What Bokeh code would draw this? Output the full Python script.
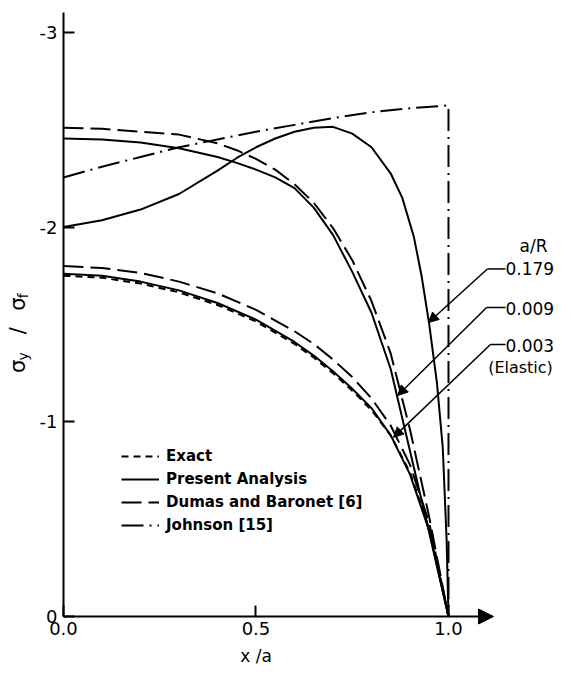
import math
from bokeh.plotting import figure
from bokeh.models import (Range1d, FixedTicker, Legend, LegendItem, Label, Arrow,
                          NormalHead)
from bokeh.embed import file_html
from bokeh.resources import INLINE

# ---------------- data ----------------
# a/R = 0.179, present analysis
x_p179 = [0, 0.1, 0.2, 0.3, 0.4, 0.45, 0.5, 0.55, 0.6, 0.65, 0.7, 0.75, 0.8, 0.85, 0.88, 0.91,
          0.93, 0.95, 0.97, 0.985, 0.995, 1.0]
y_p179 = [-2.0, -2.035, -2.09, -2.17, -2.29, -2.355, -2.41, -2.455, -2.49, -2.51, -2.515, -2.48,
          -2.41, -2.275, -2.15, -1.95, -1.75, -1.50, -1.2, -0.87, -0.4, 0.0]

# a/R = 0.009, present analysis
x_p009 = [0, 0.1, 0.2, 0.3, 0.4, 0.45, 0.5, 0.55, 0.6, 0.65, 0.7, 0.75, 0.8, 0.85, 0.9, 0.95, 1.0]
y_p009 = [-2.455, -2.45, -2.435, -2.405, -2.36, -2.33, -2.295, -2.255, -2.20, -2.10, -1.96,
          -1.77, -1.56, -1.27, -0.85, -0.43, 0.0]

# a/R = 0.009, Dumas and Baronet
x_d009 = [0, 0.1, 0.2, 0.3, 0.4, 0.45, 0.5, 0.55, 0.6, 0.65, 0.7, 0.75, 0.8, 0.85, 0.9, 0.95, 1.0]
y_d009 = [-2.51, -2.505, -2.49, -2.475, -2.43, -2.395, -2.35, -2.295, -2.22, -2.125, -1.995,
          -1.83, -1.62, -1.35, -0.96, -0.51, 0.0]

# a/R = 0.003 (elastic), present analysis
x_p003 = [0, 0.1, 0.2, 0.3, 0.4, 0.5, 0.6, 0.65, 0.7, 0.75, 0.8, 0.85, 0.9, 0.95, 1.0]
y_p003 = [-1.76, -1.75, -1.72, -1.675, -1.61, -1.525, -1.41, -1.34, -1.26, -1.17, -1.07, -0.93,
          -0.73, -0.44, 0.0]

# exact elastic solution
x_exact = [0, 0.1, 0.2, 0.3, 0.4, 0.5, 0.6, 0.65, 0.7, 0.75, 0.8, 0.85, 0.9, 0.95, 1.0]
y_exact = [-1.75, -1.74, -1.71, -1.665, -1.60, -1.515, -1.40, -1.33, -1.25, -1.16, -1.06, -0.93,
           -0.74, -0.45, 0.0]

# a/R = 0.003, Dumas and Baronet
x_d003 = [0, 0.1, 0.2, 0.3, 0.4, 0.5, 0.6, 0.65, 0.7, 0.75, 0.8, 0.85, 0.9, 0.95, 1.0]
y_d003 = [-1.80, -1.79, -1.765, -1.72, -1.66, -1.575, -1.465, -1.40, -1.32, -1.23, -1.12, -0.98,
          -0.78, -0.48, 0.0]

# Johnson [15]
x_john = [0, 0.1, 0.2, 0.3, 0.4, 0.5, 0.6, 0.7, 0.8, 0.9, 1.0, 1.0]
y_john = [-2.255, -2.31, -2.36, -2.41, -2.45, -2.49, -2.525, -2.56, -2.59, -2.61, -2.625, 0.0]

x_ticks = [0, 0.5, 1.0]
x_tick_labels = ["0.0", "0.5", "1.0"]
y_ticks = [-3, -2, -1, 0]
y_tick_labels = ["-3", "-2", "-1", "0"]

legend_labels = ["Exact", "Present Analysis", "Dumas and Baronet [6]", "Johnson [15]"]

ar_title = "a/R"
ar_values = ["0.179", "0.009", "0.003"]
ar_text_y = [-1.785, -1.58, -1.39]
ar_bend_x = [1.101, 1.099, 1.109]
ar_bend_y = [-1.785, -1.587, -1.397]
ar_tip_x = [0.948, 0.868, 0.857]
ar_tip_y = [-1.51, -1.135, -0.92]

FONT = "DejaVu Sans"
LW = 2

# frame covers the whole canvas; axes are pinned at x=0 / y=0
p = figure(width=563, height=667,
           x_range=Range1d(-0.1636, 1.2987), y_range=Range1d(0.262, -3.1638),
           output_backend="svg", toolbar_location=None,
           min_border_left=0, min_border_right=0, min_border_top=0, min_border_bottom=0)
p.outline_line_color = None
p.grid.visible = False
p.background_fill_color = "white"

# axes
xa = p.xaxis[0]
xa.fixed_location = 0
xa.bounds = (0, 1.0)
xa.ticker = FixedTicker(ticks=x_ticks)
xa.major_label_overrides = dict(zip(x_ticks, x_tick_labels))
xa.axis_line_color = None
xa.major_tick_in = 11
xa.major_tick_out = 0
xa.major_tick_line_width = 2
xa.minor_tick_line_color = None
xa.major_label_text_font = FONT
xa.major_label_text_font_size = "18px"
xa.major_label_text_color = "black"
xa.major_label_standoff = 6

ya = p.yaxis[0]
ya.fixed_location = 0
ya.bounds = (-3.1, 0)
ya.ticker = FixedTicker(ticks=y_ticks)
ya.major_label_overrides = dict(zip(y_ticks, y_tick_labels))
ya.axis_line_width = 2
ya.major_tick_in = 11
ya.major_tick_out = 0
ya.major_tick_line_width = 2
ya.minor_tick_line_color = None
ya.major_label_text_font = FONT
ya.major_label_text_font_size = "18px"
ya.major_label_text_color = "black"
ya.major_label_standoff = 6

# x-axis arrow
p.add_layout(Arrow(end=NormalHead(size=15, fill_color="black", line_color="black"),
                   x_start=0, y_start=0, x_end=1.117, y_end=0,
                   line_width=2, line_color="black"))

# curves
r_exact = p.line(x_exact, y_exact, line_color="black", line_width=LW, line_dash="7 5")
r_p003 = p.line(x_p003, y_p003, line_color="black", line_width=LW)
r_d003 = p.line(x_d003, y_d003, line_color="black", line_width=LW, line_dash="20 7")
p.line(x_p009, y_p009, line_color="black", line_width=LW)
p.line(x_d009, y_d009, line_color="black", line_width=LW, line_dash="20 7")
p.line(x_p179, y_p179, line_color="black", line_width=LW)
r_john = p.line(x_john, y_john, line_color="black", line_width=LW, line_dash="22 6 2 6")

legend = Legend(items=[LegendItem(label=legend_labels[0], renderers=[r_exact]),
                       LegendItem(label=legend_labels[1], renderers=[r_p003]),
                       LegendItem(label=legend_labels[2], renderers=[r_d003]),
                       LegendItem(label=legend_labels[3], renderers=[r_john])],
                location=(121, 132), orientation="vertical",
                label_text_font=FONT, label_text_font_size="15px",
                label_text_font_style="bold", label_text_color="black",
                glyph_width=38, glyph_height=20, label_height=20, spacing=3,
                padding=0, margin=0, label_standoff=7,
                border_line_color=None, background_fill_alpha=0)
p.add_layout(legend)

# a/R leaders
for i in range(3):
    p.line([1.148, ar_bend_x[i]], [ar_bend_y[i], ar_bend_y[i]], line_color="black", line_width=1.5)
    p.add_layout(Arrow(end=NormalHead(size=10, fill_color="black", line_color="black"),
                       x_start=ar_bend_x[i], y_start=ar_bend_y[i],
                       x_end=ar_tip_x[i], y_end=ar_tip_y[i],
                       line_width=1.5, line_color="black"))
    p.add_layout(Label(x=1.148, y=ar_text_y[i], text=ar_values[i], text_font=FONT,
                       text_font_size="17px", text_align="left", text_baseline="middle",
                       text_color="black"))
p.add_layout(Label(x=1.221, y=-1.905, text=ar_title, text_font=FONT, text_font_size="17px",
                   text_align="center", text_baseline="middle", text_color="black"))
p.add_layout(Label(x=1.103, y=-1.279, text="(Elastic)", text_font=FONT, text_font_size="16px",
                   text_align="left", text_baseline="middle", text_color="black"))

# axis titles
p.add_layout(Label(x=0.5, y=0.205, text="x /a", text_font=FONT, text_font_size="17px",
                   text_align="center", text_baseline="middle", text_color="black"))
ylab_x = -0.117
for txt, yy, size, dx in [("σ", -1.25, "21px", 0.0), ("y", -1.315, "14px", 0.013),
                          ("/", -1.45, "21px", 0.0), ("σ", -1.57, "21px", 0.0),
                          ("f", -1.635, "14px", 0.013)]:
    p.add_layout(Label(x=ylab_x + dx, y=yy, text=txt, text_font=FONT, text_font_size=size,
                       angle=math.pi / 2, text_align="left", text_baseline="middle",
                       text_color="black"))

open("out.html", "w").write(file_html(p, INLINE))
